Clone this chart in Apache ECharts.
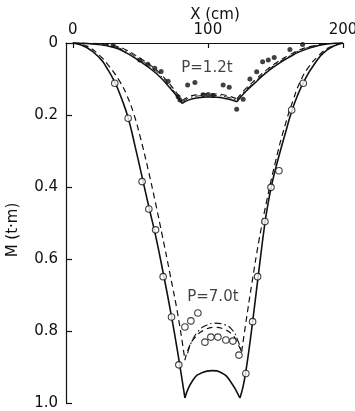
<!DOCTYPE html>
<html><head><meta charset="utf-8">
<script src="https://cdn.jsdelivr.net/npm/echarts@6/dist/echarts.min.js"></script>
<style>html,body{margin:0;padding:0;background:#fff}#c{width:355px;height:411px}</style>
</head><body><div id="c"></div>
<script>
// axis ticks
const xTicks = [0, 100, 200];
const yTicks = [0, 0.2, 0.4, 0.6, 0.8, 1.0];

// ---- P = 1.2 t ----
const p12SolidLeft  = [[0,0],[15,0.003],[30,0.012],[40,0.028],[50,0.052],[58,0.073],[65,0.096],[72,0.125],[77,0.148],[81,0.168]];
const p12SolidMid   = [[81,0.168],[86,0.158],[93,0.152],[100,0.150],[107,0.151],[114,0.155],[121.5,0.163]];
const p12SolidRight = [[121.5,0.163],[128,0.135],[136,0.107],[143,0.083],[151,0.061],[160,0.040],[168,0.024],[178,0.011],[188,0.003],[200,0]];

const p12DashLeft   = [[0,0],[15,0.001],[30,0.007],[40,0.020],[50,0.043],[58,0.063],[65,0.086],[72,0.115],[77,0.139],[81,0.160]];
const p12DashMid    = [[81,0.160],[86,0.149],[93,0.143],[100,0.141],[107,0.142],[114,0.146],[121.5,0.155]];
const p12DashRight  = [[121.5,0.155],[128,0.127],[136,0.099],[143,0.076],[151,0.054],[160,0.034],[168,0.019],[178,0.008],[188,0.002],[200,0]];

const p12DotDashLeft  = [[0,0],[15,0.002],[30,0.010],[40,0.024],[50,0.047],[58,0.068],[65,0.091],[72,0.120],[77,0.144],[81,0.164]];
const p12DotDashMid   = [[81,0.164],[86,0.153],[93,0.147],[100,0.145],[107,0.146],[114,0.150],[121.5,0.159]];
const p12DotDashRight = [[121.5,0.159],[128,0.131],[136,0.103],[143,0.080],[151,0.057],[160,0.037],[168,0.021],[178,0.009],[188,0.002],[200,0]];

const p12Dots = [[29.9,0.006],[49.6,0.047],[55.6,0.059],[60.7,0.070],[65.4,0.079],[70.6,0.106],[78.0,0.149],[79.3,0.158],
  [85.0,0.117],[90.4,0.110],[96.5,0.144],[100.2,0.143],[103.9,0.146],[111.3,0.117],[115.8,0.123],[121.3,0.184],[126.1,0.156],
  [131.1,0.100],[136.1,0.080],[140.5,0.052],[144.7,0.047],[149.1,0.040],[160.7,0.018],[170.1,0.004]];

// ---- P = 7.0 t ----
const p70SolidLeft  = [[0,0],[10,0.012],[20,0.042],[25,0.068],[31,0.108],[36,0.153],[41,0.208],[46,0.285],[51.3,0.372],[56.3,0.455],[61.3,0.535],[67,0.640],[73,0.758],[78,0.867],[83,0.986]];
const p70SolidMid   = [[83,0.986],[89,0.936],[96,0.915],[103,0.910],[110,0.916],[116,0.936],[123.7,0.986]];
const p70SolidRight = [[123.7,0.986],[126,0.955],[128.1,0.912],[130.5,0.850],[133.1,0.775],[137,0.655],[142.2,0.500],[144.6,0.445],[147,0.398],[149.5,0.358],[152,0.322],[157,0.255],[162,0.190],[167,0.140],[171,0.108],[178,0.063],[188,0.020],[200,0]];

const p70DashLeft   = [[0,0],[10,0.008],[20,0.035],[27,0.065],[35,0.108],[40,0.145],[45,0.195],[50,0.262],[56,0.355],[61,0.440],[66,0.530],[72,0.642],[78,0.760],[83,0.881]];
const p70DashMid    = [[83,0.881],[86,0.845],[90.4,0.818],[97,0.798],[105,0.790],[112,0.795],[118,0.810],[122,0.835],[125,0.858]];
const p70DashRight  = [[125,0.858],[128,0.780],[132.6,0.667],[138,0.545],[143.7,0.436],[150,0.330],[157,0.230],[163,0.160],[168,0.110],[174,0.070],[182,0.035],[190,0.012],[200,0]];

const p70DotDashMid = [[85,0.862],[88,0.830],[93,0.800],[99,0.784],[105,0.778],[112,0.782],[118,0.797],[122,0.825],[125,0.858]];

const p70Circles = [[31.1,0.112],[41.0,0.209],[51.3,0.385],[56.3,0.461],[61.3,0.519],[66.9,0.649],[73.1,0.761],[78.5,0.894],
  [83.0,0.789],[87.4,0.772],[92.6,0.750],[97.8,0.831],[102.2,0.817],[107.4,0.817],[113.3,0.825],[118.5,0.828],[123.0,0.867],
  [128.1,0.918],[133.1,0.774],[136.8,0.649],[142.2,0.496],[146.7,0.401],[152.6,0.355],[162.0,0.186],[170.6,0.112]];

const loadLabels = [[99.3,0.069,'P=1.2t'],[103.7,0.706,'P=7.0t']];

const INK = '#111';
const FONT = 'DejaVu Sans';
const DASH = [6,4];
const DOTDASH = [7,3,1.5,3];

function seg(data, type, width, z) {
  return { type:'line', data, smooth:0.5, symbol:'none', silent:true,
    lineStyle:{color:INK, width, type}, z: z||2 };
}

const series = [
  seg(p12SolidLeft,'solid',1.5), seg(p12SolidMid,'solid',1.5), seg(p12SolidRight,'solid',1.5),
  seg(p12DashLeft,DASH,1.1), seg(p12DashMid,DASH,1.1), seg(p12DashRight,DASH,1.1),
  seg(p12DotDashLeft,DOTDASH,1), seg(p12DotDashMid,DOTDASH,1), seg(p12DotDashRight,DOTDASH,1),
  seg(p70SolidLeft,'solid',1.6), seg(p70SolidMid,'solid',1.6), seg(p70SolidRight,'solid',1.6),
  seg(p70DashLeft,DASH,1.2), seg(p70DashMid,DASH,1.2), seg(p70DashRight,DASH,1.2),
  seg(p70DotDashMid,DOTDASH,1.1),
  { type:'scatter', data:p12Dots, symbol:'circle', symbolSize:5, itemStyle:{color:INK}, z:4, silent:true },
  { type:'scatter', data:p70Circles, symbol:'circle', symbolSize:6.5,
    itemStyle:{color:'#fff', borderColor:INK, borderWidth:1.1}, z:5, silent:true },
  { type:'scatter', data:loadLabels.map(d=>[d[0],d[1],d[2]]), symbolSize:0, silent:true, z:6,
    label:{show:true, position:'inside', formatter:p=>p.data[2], color:INK, fontFamily:FONT, fontSize:15} }
];

const chart = echarts.init(document.getElementById('c'), null, {renderer:'canvas'});
chart.setOption({
  animation:false,
  backgroundColor:'#fff',
  grid:{left:66, right:12, top:43, bottom:8, containLabel:false, outerBoundsMode:'none'},
  xAxis:{
    type:'value', position:'top', min:-5, max:200,
    axisLine:{show:true, onZero:false, lineStyle:{color:INK, width:1.2}},
    axisTick:{show:true, inside:true, length:5, customValues:xTicks, lineStyle:{color:INK, width:1.2}},
    axisLabel:{show:true, customValues:xTicks, margin:5, color:INK, fontFamily:FONT, fontSize:15},
    splitLine:{show:false}
  },
  yAxis:{
    type:'value', inverse:true, min:0, max:1, interval:0.2,
    axisLine:{show:true, onZero:false, lineStyle:{color:INK, width:1.2}},
    axisTick:{show:true, inside:true, length:6, lineStyle:{color:INK, width:1.2}},
    axisLabel:{show:true, margin:8, color:INK, fontFamily:FONT, fontSize:15,
      formatter:v=> (Math.abs(v)<1e-9 ? '0' : v.toFixed(1))},
    splitLine:{show:false}
  },
  graphic:[
    {type:'text', x:215, y:15, silent:true,
      style:{text:'X (cm)', fill:INK, font:'15px "DejaVu Sans"', align:'center', verticalAlign:'middle'}},
    {type:'text', x:13, y:230, rotation:Math.PI/2, silent:true,
      style:{text:'M (t·m)', fill:INK, font:'15px "DejaVu Sans"', align:'center', verticalAlign:'middle'}}
  ],
  series
});
</script>
</body></html>
